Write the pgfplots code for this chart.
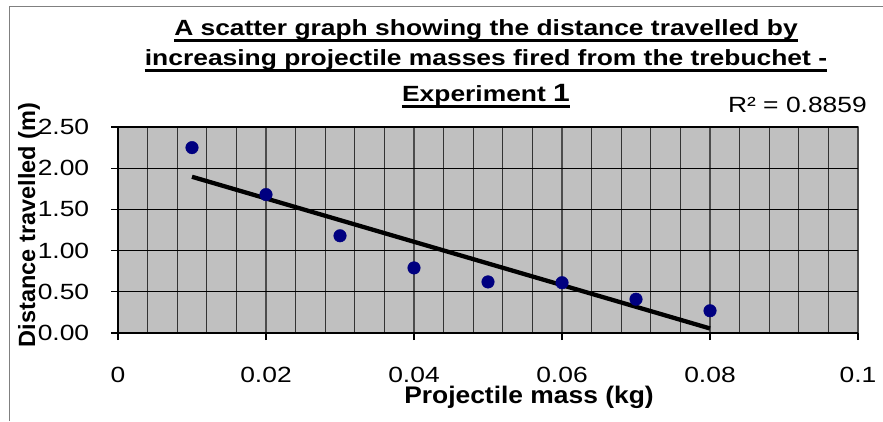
\documentclass[border=0pt]{standalone}
\usepackage{fontspec}
\setmainfont{Liberation Sans}
\usepackage{pgfplots}
\pgfplotsset{compat=1.18}
\definecolor{plotbg}{HTML}{C0C0C0}
\definecolor{navy}{HTML}{000080}
\definecolor{framegray}{HTML}{808080}
\newcommand{\tfont}{\fontsize{22}{26}\selectfont}
\begin{document}
\begin{tikzpicture}[x=1pt,y=1pt]
\path[use as bounding box] (0,0) rectangle (883,421);
\draw[framegray, line width=1pt] (9,0) -- (9,414) -- (883,414);
\begin{axis}[
  at={(118pt,88pt)}, anchor=south west,
  scale only axis, width=740pt, height=206pt,
  xmin=0, xmax=0.1, ymin=0, ymax=2.5,
  xtick={0,0.02,0.04,0.06,0.08,0.1},
  xticklabels={0,0.02,0.04,0.06,0.08,0.1},
  ytick={0,0.5,1,1.5,2,2.5},
  yticklabels={0.00,0.50,1.00,1.50,2.00,2.50},
  minor x tick num=4,
  xmajorgrids=true, xminorgrids=true, ymajorgrids=true,
  major x grid style={black!70, line width=1.2pt},
  minor x grid style={black!80, line width=1.2pt},
  major y grid style={black, line width=1.2pt},
  tick align=outside, tick pos=left,
  major tick length=7pt, minor tick length=0pt,
  tick style={black, line width=1.2pt},
  separate axis lines,
  axis x line*=bottom, axis y line*=left,
  axis line style={black, line width=1.2pt, -},
  axis background/.style={fill=plotbg, draw=framegray, line width=1.2pt},
  xticklabel style={font=\tfont, xscale=1.2, inner sep=0pt, anchor=base, yshift=-42.5pt},
  yticklabel style={font=\tfont, xscale=1.2, inner sep=0pt, anchor=east, xshift=-18pt},
  clip=false,
]
\addplot[only marks, mark=*, mark size=6.3pt, mark options={fill=navy, draw=navy}]
  coordinates {(0.01,2.25) (0.02,1.68) (0.03,1.18) (0.04,0.79) (0.05,0.62) (0.06,0.61) (0.07,0.41) (0.08,0.27)};
\addplot[black, line width=4.3pt, no marks] coordinates {(0.01,1.896) (0.08,0.055)};
\end{axis}
\node[anchor=base, inner sep=0pt, font=\bfseries\tfont, xscale=1.2] (t1) at (486,385) {A scatter graph showing the distance travelled by};
\draw[line width=3pt] ([yshift=-5pt]t1.base west) -- ([yshift=-5pt]t1.base east);
\node[anchor=base, inner sep=0pt, font=\bfseries\tfont, xscale=1.2] (t2) at (486,355) {increasing projectile masses fired from the trebuchet -};
\draw[line width=3pt] ([yshift=-5pt]t2.base west) -- ([yshift=-5pt]t2.base east);
\node[anchor=base, inner sep=0pt, font=\bfseries\tfont, xscale=1.2] (t3) at (486,319) {Experiment {\fontsize{25}{28}\selectfont 1}};
\draw[line width=3pt] ([yshift=-5pt]t3.base west) -- ([yshift=-5pt]t3.base east);
\node[anchor=base east, inner sep=0pt, font=\tfont, xscale=1.2] at (867,308) {R² = 0.8859};
\node[anchor=base, inner sep=0pt, font=\bfseries\fontsize{24}{28}\selectfont, xscale=1.1] at (529,18) {Projectile mass (kg)};
\node[anchor=base, inner sep=0pt, font=\bfseries\fontsize{23.5}{28}\selectfont, rotate=90] at (35,196) {Distance travelled (m)};
\end{tikzpicture}
\end{document}
